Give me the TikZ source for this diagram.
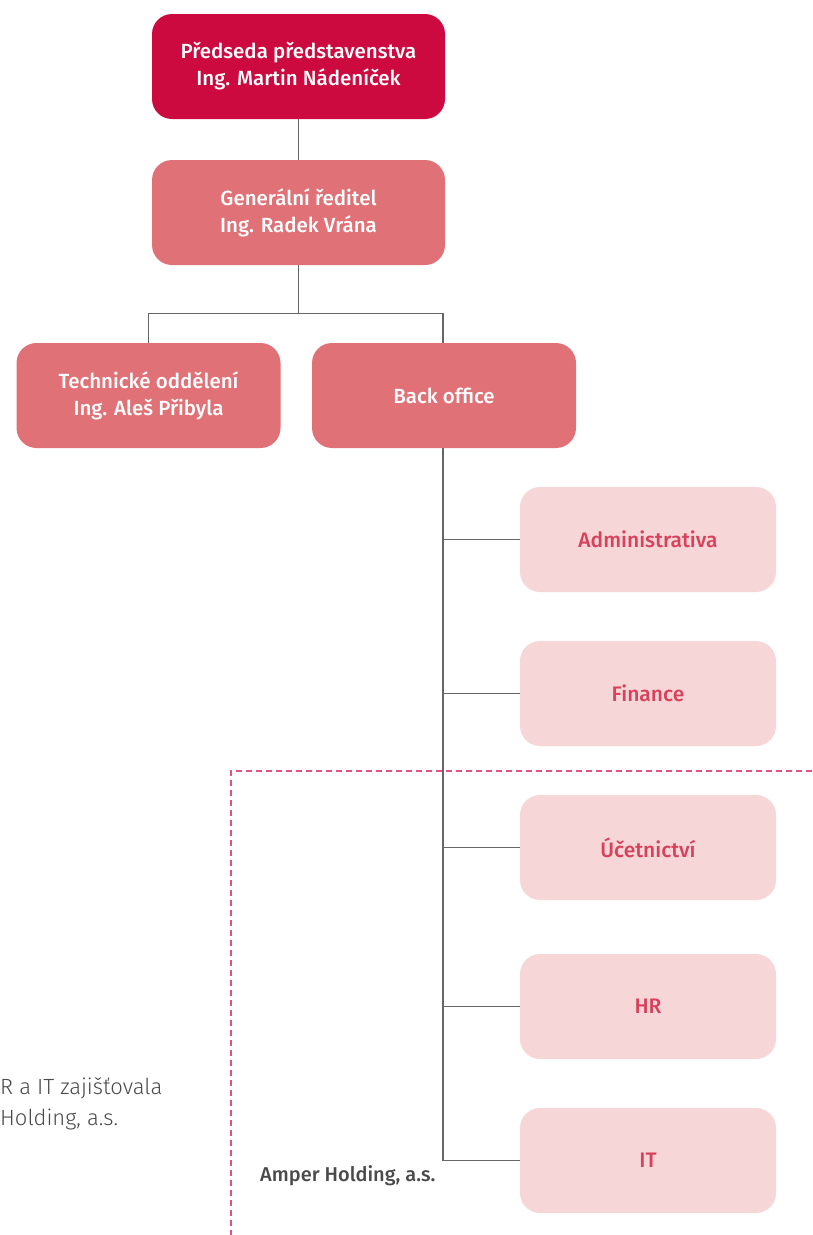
\documentclass[tikz,border=0pt]{standalone}
\usepackage{fontspec}
\setmainfont{Fira Sans}
\newfontfamily\medfont{Fira Sans Medium}
\newfontfamily\lightfont{Fira Sans Light}
\definecolor{boardred}{HTML}{CC0A3F}
\definecolor{midred}{HTML}{E07277}
\definecolor{palered}{HTML}{F6D6D6}
\definecolor{paletext}{HTML}{D9405B}
\definecolor{linegray}{HTML}{666666}
\definecolor{dashpink}{HTML}{E2517F}
\definecolor{notegray}{HTML}{4A4A4A}

\begin{document}
\begin{tikzpicture}[
    x=1pt,y=-1pt,
    board node/.style={rectangle,rounded corners=20pt,fill=boardred,text=white,minimum width=293pt,minimum height=105pt,align=center,font=\medfont\fontsize{20.5}{27}\selectfont},
    head node/.style={board node,fill=midred},
    dept node/.style={rectangle,rounded corners=20pt,fill=midred,text=white,minimum width=264pt,minimum height=105pt,align=center,font=\medfont\fontsize{20.5}{27}\selectfont},
    unit node/.style={rectangle,rounded corners=20pt,fill=palered,text=paletext,minimum width=256pt,minimum height=105pt,align=center,font=\medfont\fontsize{21}{25}\selectfont},
    link/.style={draw=linegray,line width=1.2pt}
]
\useasboundingbox (0,0) rectangle (812,1235);

% Board
\node[board node] (chair) at (298.5,66.5) {Předseda představenstva\\Ing. Martin Nádeníček};

% General director
\node[head node] (director) at (298.5,212.5) {Generální ředitel\\Ing. Radek Vrána};

% Departments
\node[dept node] (technical) at (148.5,395.5) {Technické oddělení\\Ing. Aleš Přibyla};
\node[dept node] (backoffice) at (444,395.5) {Back office};

% Back office units
\node[unit node] (admin) at (648,539.5) {Administrativa};
\node[unit node] (finance) at (648,693.5) {Finance};
\node[unit node] (accounting) at (648,847.5) {Účetnictví};
\node[unit node] (hr) at (648,1006.5) {HR};
\node[unit node] (it) at (648,1160.5) {IT};

% Links
\draw[link] (chair) -- (director);
\draw[link] (director.south) -- ++(0,48) coordinate (split);
\draw[link] (technical.north) |- (split) -| (443,343);
\draw[link] (443,448) |- (it.west);
\draw[link] (443,539.5) -- (admin.west);
\draw[link] (443,693.5) -- (finance.west);
\draw[link] (443,847.5) -- (accounting.west);
\draw[link] (443,1006.5) -- (hr.west);

% Amper Holding area
\coordinate (areacorner) at (231,771);
\draw[draw=dashpink,line width=1.5pt,dash pattern=on 6pt off 4pt] (812,771) -- (areacorner) -- (231,1235);
\node[anchor=west,inner sep=0pt,text=notegray,font=\medfont\fontsize{20}{22}\selectfont] (amper) at (260,1176) {Amper Holding, a.s.};

% Note
\node[anchor=north west,inner sep=0pt,align=left,text=notegray,font=\lightfont\fontsize{22}{31}\selectfont] (note) at (0,1077) {R a IT zajišťovala\\Holding, a.s.};

\end{tikzpicture}
\end{document}
